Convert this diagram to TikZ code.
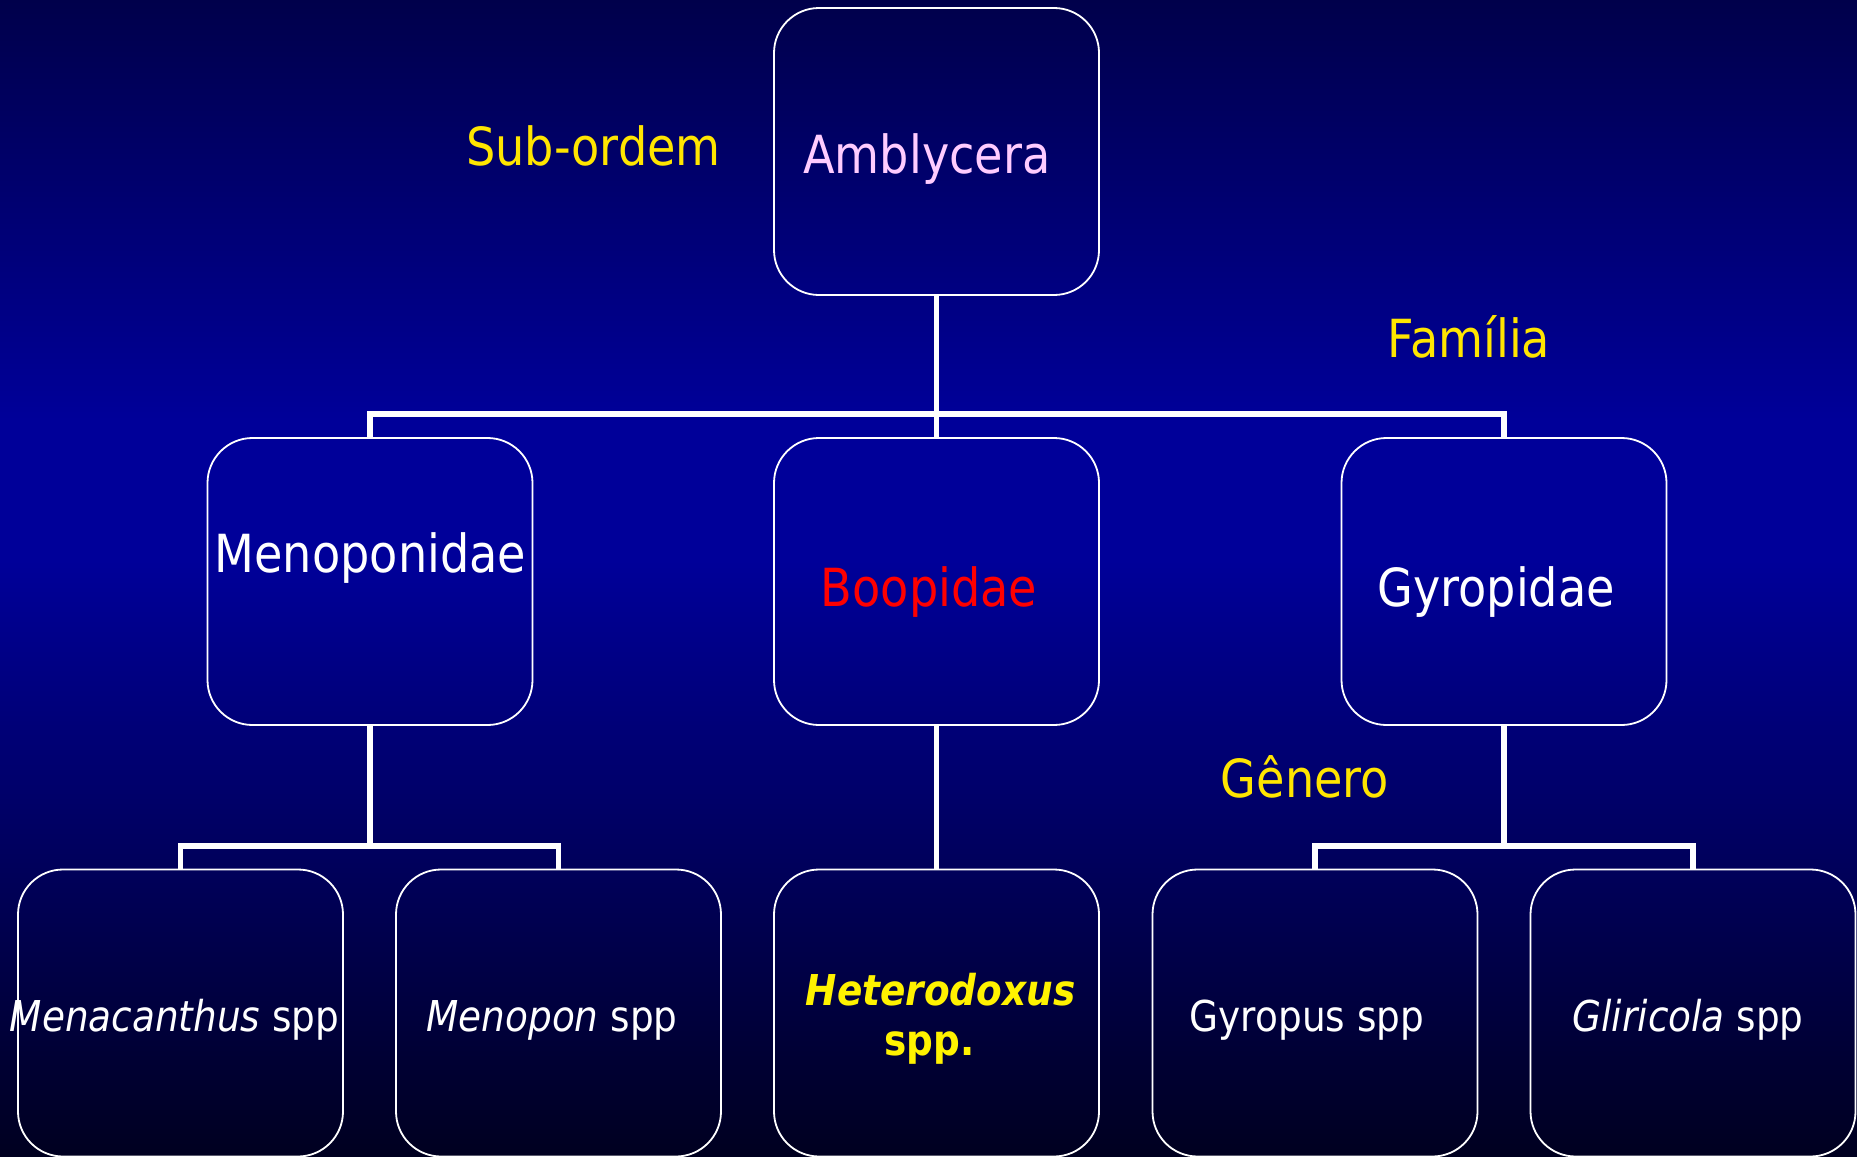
\documentclass[tikz,border=0pt]{standalone}
\usepackage{fontspec}
\setmainfont{DejaVu Sans}[FakeStretch=0.88]
\definecolor{bgtop}{RGB}{0,0,75}
\definecolor{bgmid}{RGB}{0,0,153}
\definecolor{bgbot}{RGB}{0,0,32}
\definecolor{rankyellow}{RGB}{255,229,0}
\definecolor{pinktext}{RGB}{255,204,255}
\begin{document}
\begin{tikzpicture}[x=1pt,y=-1pt,
  box/.style={draw=white,line width=1.8pt,rounded corners=45pt,
    minimum width=325pt,minimum height=287pt,inner sep=0pt,outer sep=0pt},
  conn/.style={draw=white,line width=5.5pt},
  big/.style={anchor=base,inner sep=0pt,font=\fontsize{52.5}{60}\selectfont},
  small/.style={anchor=base,inner sep=0pt,font=\fontsize{42.5}{50}\selectfont},
  rank/.style={big,text=rankyellow}]
% background gradient
\useasboundingbox (0,0) rectangle (1857,1156);
\fill[top color=bgtop,bottom color=bgmid] (0,0) rectangle (1857,420);
\fill[bgmid] (0,419) rectangle (1857,561);
\fill[top color=bgmid,bottom color=bgbot] (0,560) rectangle (1857,1156);

% boxes
\node[box] (top) at (936.5,151.5) {};
\node[box] (men) at (370,581.5) {};
\node[box] (boo) at (936.5,581.5) {};
\node[box] (gyr) at (1504,581.5) {};
\node[box] (mca) at (180.5,1013) {};
\node[box] (mpo) at (558.5,1013) {};
\node[box] (het) at (936.5,1013) {};
\node[box] (gpu) at (1315,1013) {};
\node[box] (gli) at (1693,1013) {};

% junction points
\coordinate (j1) at (936.5,414);
\coordinate (j2) at (370,846);
\coordinate (j3) at (1504,846);

% connectors
\draw[conn] (top.south) -- (boo.north);
\draw[conn] (men.north) |- (j1) -| (gyr.north);
\draw[conn] (men.south) -- (j2);
\draw[conn] (mca.north) |- (j2) -| (mpo.north);
\draw[conn] (boo.south) -- (het.north);
\draw[conn] (gyr.south) -- (j3);
\draw[conn] (gpu.north) |- (j3) -| (gli.north);

% rank labels
\node[rank] (lsub) at (593.5,165.7) {Sub-ordem};
\node[rank] (lfam) at (1469,357) {Família};
\node[rank] (lgen) at (1305,797) {Gênero};

% taxon names
\node[big,text=pinktext] (tamb) at (927,173) {Amblycera};
\node[big,text=white] (tmen) at (370.5,572.7) {Menoponidae};
\node[big,text=red] (tboo) at (929,606) {Boopidae};
\node[big,text=white] (tgyr) at (1496,606) {Gyropidae};

\node[small,text=white] (tmca) at (174.5,1031) {\itshape Menacanthus\upshape{} spp};
\node[small,text=white] (tmpo) at (552,1031) {\itshape Menopon\upshape{} spp};
\node[small,text=yellow] (thet1) at (940.5,1005) {\bfseries\itshape Heterodoxus};
\node[small,text=yellow] (thet2) at (929.5,1055) {\bfseries spp.};
\node[small,text=white] (tgpu) at (1307,1031) {Gyropus spp};
\node[small,text=white] (tgli) at (1688,1031) {\itshape Gliricola\upshape{} spp};
\end{tikzpicture}
\end{document}
